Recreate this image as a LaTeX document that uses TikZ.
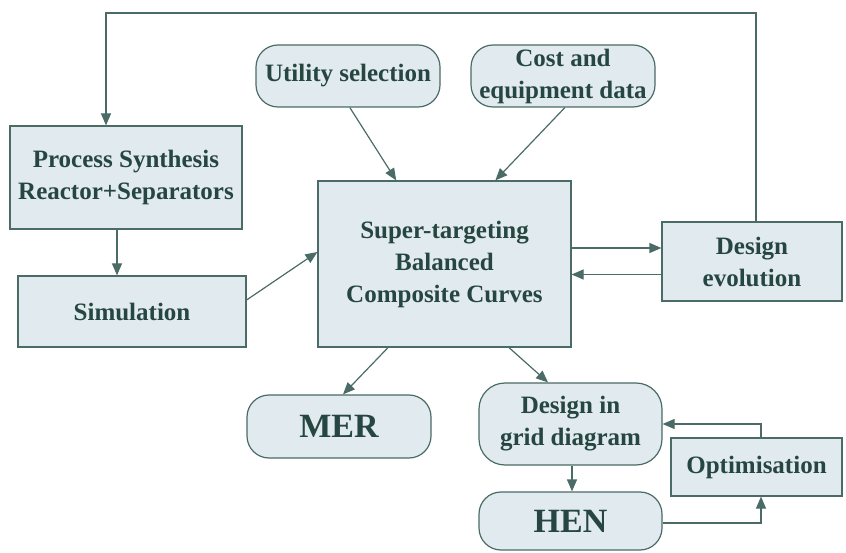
\documentclass[tikz,border=0pt]{standalone}
\usepackage{fontspec}
\setmainfont{Liberation Serif}
\usetikzlibrary{arrows.meta,calc}
\definecolor{boxfill}{HTML}{E1EAEE}
\definecolor{boxline}{HTML}{4A6B66}
\definecolor{boxtext}{HTML}{264641}
\begin{document}
\begin{tikzpicture}[x=1pt,y=1pt,
  base/.style={draw=boxline,fill=boxfill,line width=1.2pt,text=boxtext,
    font=\bfseries\fontsize{25}{32}\selectfont,align=center,inner sep=0pt},
  sqbox/.style={base,rectangle},
  rbox/.style={base,rectangle,rounded corners=22pt},
  bigtext/.style={font=\bfseries\fontsize{34}{36}\selectfont},
  arr/.style={draw=boxline,line width=1.2pt,-{Triangle[length=12pt,width=10pt]}}]
\useasboundingbox (0,0) rectangle (846,552);

% boxes
\node[sqbox,minimum width=232pt,minimum height=103pt] (proc) at (126,374.5) {Process Synthesis\\Reactor+Separators};
\node[sqbox,minimum width=228pt,minimum height=71pt] (sim) at (132,240.5) {Simulation};
\node[rbox,minimum width=184pt,minimum height=62pt] (util) at (348,476) {Utility selection};
\node[rbox,minimum width=184pt,minimum height=62pt] (cost) at (563,476) {Cost and\\equipment data};
\node[sqbox,minimum width=253pt,minimum height=166pt] (super) at (444.5,288) {Super-targeting\\Balanced\\Composite Curves};
\node[sqbox,minimum width=180pt,minimum height=79pt] (evo) at (752,290.5) {Design\\evolution};
\node[rbox,bigtext,minimum width=184pt,minimum height=63pt] (mer) at (339,125.5) {MER};
\node[rbox,rounded corners=26pt,minimum width=183pt,minimum height=82pt] (grid) at (570.5,128) {Design in\\grid diagram};
\node[rbox,bigtext,minimum width=183pt,minimum height=58pt] (hen) at (570.5,31) {HEN};
\node[sqbox,minimum width=171pt,minimum height=58pt] (opt) at (756.5,85) {Optimisation};

% feedback loop from design evolution back to process synthesis
\coordinate (fbA) at ([xshift=4pt]evo.north);
\coordinate (fbB) at ([xshift=-20pt]proc.north);
\coordinate (fbTop) at (0,539);
\draw[arr] (fbA) -- (fbA |- fbTop) -- (fbB |- fbTop) -- (fbB);

% process synthesis to simulation
\coordinate (psA) at ([xshift=-9pt]proc.south);
\draw[arr] (psA) -- (psA |- sim.north);

% simulation to super-targeting
\draw[arr] ([yshift=11.5pt]sim.east) -- ([yshift=12pt]super.west);

% inputs to super-targeting
\draw[arr] ($(util.south west)!0.51!(util.south east)$) -- ($(super.north west)!0.31!(super.north east)$);
\draw[arr] ($(cost.south west)!0.51!(cost.south east)$) -- ($(super.north west)!0.70!(super.north east)$);

% super-targeting <-> design evolution
\coordinate (seA) at ([yshift=16pt]super.east);
\coordinate (seB) at ([yshift=-13pt]evo.west);
\draw[arr] (seA) -- (seA -| evo.west);
\draw[arr] (seB) -- (seB -| super.east);

% outputs of super-targeting
\draw[arr] ([xshift=-56.5pt]super.south) -- ([xshift=4pt]mer.north);
\draw[arr] ([xshift=64.5pt]super.south) -- ([xshift=-22.5pt]grid.north);

% grid design, network and optimisation loop
\coordinate (gA) at ([xshift=1.5pt]grid.south);
\draw[arr] (gA) -- (gA |- hen.north);
\coordinate (hA) at ([yshift=-2pt]hen.east);
\coordinate (oB) at ([xshift=4.5pt]opt.south);
\coordinate (oT) at ([xshift=4.5pt]opt.north);
\draw[arr] (hA) -| (oB);
\draw[arr] (oT) |- (grid.east);
\end{tikzpicture}
\end{document}
